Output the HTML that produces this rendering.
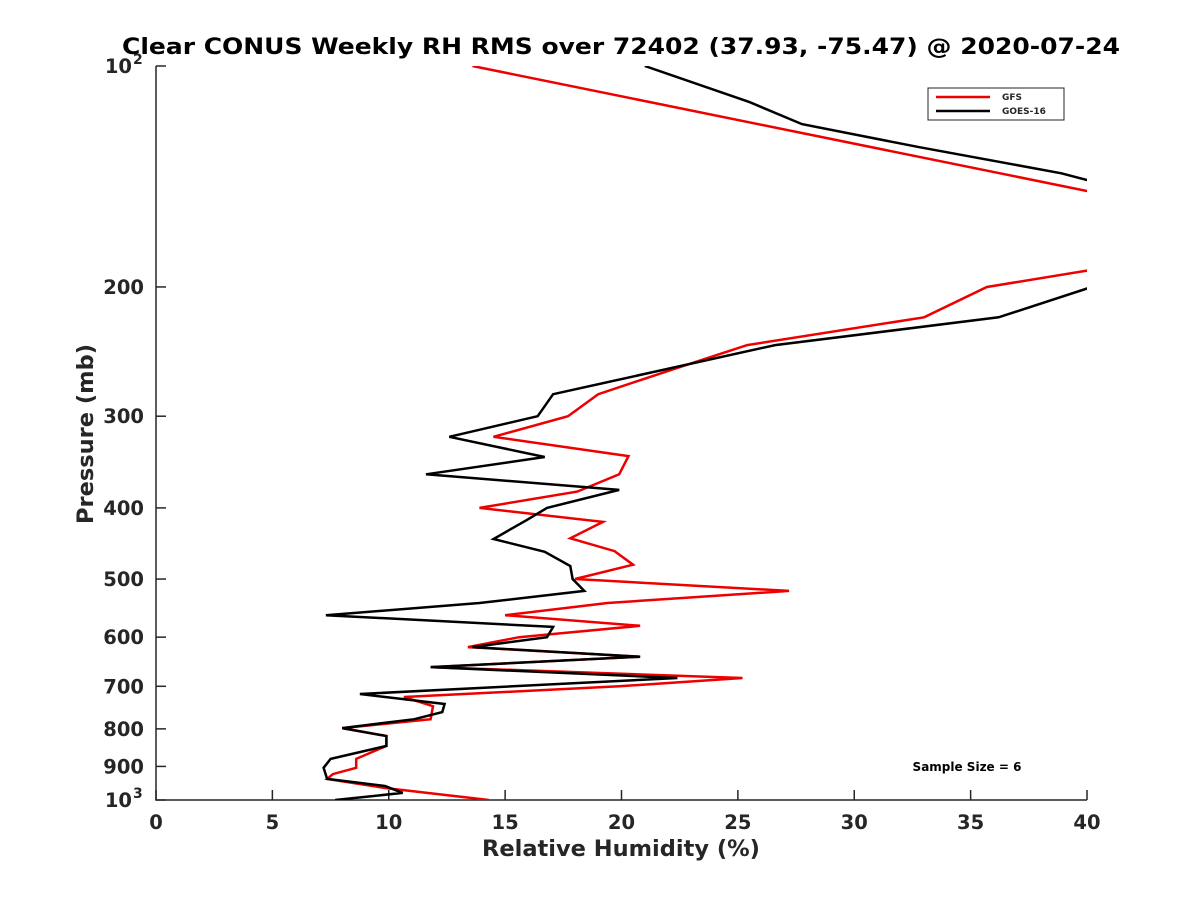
<!DOCTYPE html>
<html><head><meta charset="utf-8"><style>body{margin:0;background:#fff}svg{display:block}text{font-family:"DejaVu Sans","Liberation Sans",sans-serif;font-weight:bold;fill:#262626}</style></head>
<body>
<svg id="chart" width="1200" height="900">
<defs><clipPath id="clip"><rect x="156" y="66" width="931" height="734"/></clipPath></defs>
<text x="621" y="54" text-anchor="middle" font-size="22" textLength="998" lengthAdjust="spacingAndGlyphs" style="fill:#000">Clear CONUS Weekly RH RMS over 72402 (37.93, -75.47) @ 2020-07-24</text>
<g id="axes"></g>
<g id="series" clip-path="url(#clip)"></g>
<g>
<rect x="928" y="88" width="136" height="32" fill="#fff" stroke="#262626" stroke-width="1"/>
<line x1="936" y1="97" x2="990" y2="97" stroke="#e00" stroke-width="2.5"/>
<text x="1002" y="100" font-size="9">GFS</text>
<line x1="936" y1="111" x2="990" y2="111" stroke="#000" stroke-width="2.5"/>
<text x="1002" y="114" font-size="9">GOES-16</text>
</g>
<text x="967" y="771" text-anchor="middle" font-size="12" style="fill:#000">Sample Size = 6</text>
<text x="621" y="856" text-anchor="middle" font-size="22.5">Relative Humidity (%)</text>
<text transform="translate(93,434) rotate(-90)" text-anchor="middle" font-size="22.5">Pressure (mb)</text>
</svg>
<script>
const xTicks=[0,5,10,15,20,25,30,35,40];
const yTicks=[100,200,300,400,500,600,700,800,900,1000];
const yTickBase=["10","200","300","400","500","600","700","800","900","10"];
const yTickSup=["2","","","","","","","","","3"];
const gfsP=[100,148,160,185,190,200,220,240,259,280,300,320,340,360,380,400,418,440,458,478,500,519,539,560,579,600,619,638,659,682,700,724,745,776,798,818,844,879,904,922,936,963,1000];
const gfsRH=[13.6,40,46,44,40,35.7,33.0,25.4,22.2,19.0,17.7,14.5,20.3,19.9,18.1,13.9,19.2,17.8,19.7,20.5,18.0,27.2,19.4,15.0,20.8,15.6,13.4,20.8,11.8,25.2,19.9,10.65,11.9,11.8,8.0,9.9,9.9,8.6,8.6,7.6,7.35,9.84,14.3];
const goesP=[100,112,120,129,140,143,155,185,201,220,240,280,300,320,341,360,378,400,416,441,459,480,500,519,539,560,581,600,619,638,659,682,717,740,759,776,798,818,844,879,904,936,957,978,1000];
const goesRH=[21.0,25.5,27.75,32.8,38.9,40,46,46,40,36.2,26.6,17.06,16.4,12.6,16.7,11.6,19.9,16.8,15.9,14.5,16.7,17.8,17.9,18.4,13.9,7.3,17.06,16.8,13.6,20.8,11.8,22.4,8.76,12.4,12.3,11.1,8.0,9.9,9.9,7.5,7.2,7.35,9.84,10.6,7.7];
const X0=156,X1=1087,Y0=66,Y1=800;
const xs=v=>X0+(v-0)/(40-0)*(X1-X0);
const ys=p=>Y0+(Math.log10(p)-2)*(Y1-Y0);
const NS="http://www.w3.org/2000/svg";
const axes=document.getElementById('axes'),ser=document.getElementById('series');
function mk(t,a,parent){const e=document.createElementNS(NS,t);for(const k in a)e.setAttribute(k,a[k]);parent.appendChild(e);return e;}
let ax=mk('path',{d:`M${X0},${Y0}V${Y1}H${X1}`,fill:'none',stroke:'#262626','stroke-width':1.5},axes);


xTicks.forEach(v=>{
 const l=mk('line',{x1:xs(v),x2:xs(v),y1:Y1,y2:Y1-10,stroke:'#262626','stroke-width':1.5},axes);
 
 
 const t=mk('text',{x:xs(v),y:Y1+29,'text-anchor':'middle','font-size':19.5},axes);t.textContent=v;
 
 
});
yTicks.forEach((p,i)=>{
 const l=mk('line',{x1:X0,x2:X0+10,y1:ys(p),y2:ys(p),stroke:'#262626','stroke-width':1.5},axes);
 
 
 const hasSup=yTickSup[i]!=='';
 const t=mk('text',{x:hasSup?X0-24:X0-12,y:ys(p)+7,'text-anchor':'end','font-size':19.5},axes);t.textContent=yTickBase[i];
 
 
 if(hasSup){const s=mk('text',{x:X0-23,y:ys(p)-2,'text-anchor':'start','font-size':14},axes);s.textContent=yTickSup[i];
 
 }
});
function line(P,R,c,name){
 const d=P.map((p,i)=>(i?'L':'M')+xs(R[i]).toFixed(1)+','+ys(p).toFixed(1)).join('');
 const e=mk('path',{d:d,fill:'none',stroke:c,'stroke-width':2.5,'stroke-linejoin':'miter'},ser);
 
 
}
line(gfsP,gfsRH,'#e00','gfs-line');
line(goesP,goesRH,'#000','goes16-line');
</script>
</body></html>
